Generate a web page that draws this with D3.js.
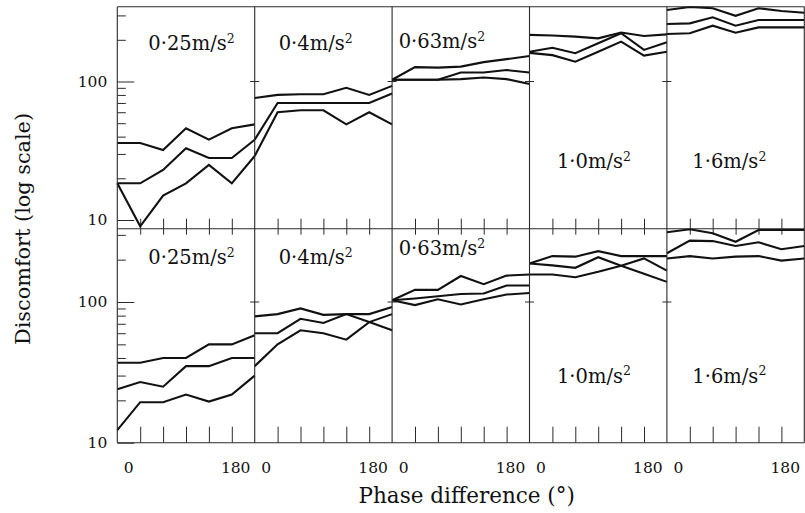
<!DOCTYPE html>
<html>
<head>
<meta charset="utf-8">
<script src="https://cdn.jsdelivr.net/npm/d3@7"></script>
<style>
  html, body { margin: 0; padding: 0; background: #fff; }
  svg { display: block; }
  svg text { font-family: "DejaVu Serif", serif; }
</style>
</head>
<body>
<svg id="chart" width="805" height="513"></svg>
<script>
// Phase differences (degrees) at which discomfort was measured
const phases = [0, 30, 60, 90, 120, 150, 180];
// Vibration magnitudes, one panel each (r.m.s. m/s²)
const levels = ["0·25", "0·4", "0·63", "1·0", "1·6"];

// Upper row: three response curves per magnitude
const upperHigh = [
  [36, 36, 32, 46, 38, 46, 49],
  [76, 80, 81, 81, 90, 80, 93],
  [103, 127, 126, 128, 138, 145, 153],
  [217, 215, 211, 205, 226, 213, 219],
  [328, 345, 338, 298, 338, 323, 314]
];
const upperMid = [
  [18.4, 18.4, 23, 33, 28, 28, 38],
  [38, 70, 70, 70, 70, 70, 82],
  [103, 103, 103, 116, 116, 121, 116],
  [164, 175, 160, 189, 223, 169, 192],
  [260, 263, 291, 253, 278, 278, 278]
];
const upperLow = [
  [18.4, 9, 15, 18.4, 25, 18.4, 29],
  [29, 60, 62, 62, 49, 60, 49],
  [103, 103, 103, 104, 107, 104, 96],
  [161, 155, 139, 164, 194, 154, 164],
  [220, 223, 253, 225, 246, 246, 246]
];

// Lower row: three response curves per magnitude
const lowerHigh = [
  [37, 37, 40, 40, 50, 50, 58],
  [79, 82, 90, 81, 82, 82, 92],
  [103, 122, 122, 153, 134, 154, 157],
  [188, 212, 210, 230, 212, 212, 212],
  [313, 329, 308, 268, 325, 325, 325]
];
const lowerMid = [
  [24, 27, 25, 35, 35, 40, 40],
  [60, 60, 76, 71, 82, 72, 63],
  [103, 106, 110, 114, 115, 131, 131],
  [188, 182, 175, 208, 181, 159, 139],
  [222, 273, 271, 250, 266, 237, 250]
];
const lowerLow = [
  [12.3, 19.4, 19.4, 22, 19.6, 22, 30],
  [35, 50, 63, 60, 54, 72, 82],
  [103, 95, 104.5, 96, 104.5, 113, 116],
  [157, 157, 150, 164, 181, 204, 167],
  [204, 212, 204, 210, 212, 197, 204]
];

// Axis ticks
const yMinorTicks = [20, 30, 40, 50, 60, 70, 80, 90, 200, 300];
const yMajorTicks = [10, 100];
const xInnerTicks = [30, 60, 90, 120, 150];
const xTickLabels = [0, 180];

// ---- layout ----
const FONT = '"DejaVu Serif", serif';
const plotLeft = 117.3, plotRight = 804.3;
const rows = [
  { top: 6.7,   bottom: 228.7, y10: 220,   y100: 81.5, series: [upperHigh, upperMid, upperLow],
    labelPos: [[31, 43.3], [24, 43.3], [6.6, 41.6], [27.4, 161.6], [25.4, 161.6]] },
  { top: 228.7, bottom: 442.7, y10: 442.7, y100: 302,  series: [lowerHigh, lowerMid, lowerLow],
    labelPos: [[31, 35.3], [24, 35.3], [6.6, 26.3], [27.4, 154], [25.4, 154]] }
];

const svg = d3.select("#chart");
const panelX = d3.scaleBand().domain(levels).range([plotLeft, plotRight]).paddingInner(0).paddingOuter(0);
const bw = panelX.bandwidth();
const ink = "#111";
const frame = "#2a2a2a";

function plainTicks(a) {
  a.attr("font-family", FONT);
  a.select(".domain").remove();
  a.selectAll("line").attr("stroke", frame).attr("stroke-width", 1);
}

rows.forEach((row, r) => {
  const y = d3.scaleLog().domain([10, 100]).range([row.y10, row.y100]);
  const g = svg.append("g");

  // left axis: minor and major ticks pointing into the plot
  g.append("g")
    .attr("transform", `translate(${plotLeft},0)`)
    .call(d3.axisRight(y).tickValues(yMinorTicks).tickSize(8.5).tickFormat(""))
    .call(plainTicks);
  g.append("g")
    .attr("transform", `translate(${plotLeft},0)`)
    .call(d3.axisRight(y).tickValues(yMajorTicks).tickSize(17).tickFormat(""))
    .call(plainTicks);
  g.append("g")
    .attr("transform", `translate(${plotLeft},0)`)
    .call(d3.axisLeft(y).tickValues(yMajorTicks).tickSize(0).tickPadding(10).tickFormat(d3.format("d")))
    .call(plainTicks)
    .call(a => a.selectAll("text").attr("font-size", 15.5).attr("fill", ink));

  levels.forEach((lvl, i) => {
    const x0 = panelX(lvl);
    const x = d3.scaleLinear().domain([0, 180]).range([x0, x0 + bw]);
    const pg = g.append("g");

    // phase ticks along the row edges
    pg.append("g")
      .attr("transform", `translate(0,${row.bottom})`)
      .call(d3.axisTop(x).tickValues(xInnerTicks).tickSize(r === 0 ? 10 : 16).tickFormat(""))
      .call(plainTicks);
    if (r === 1) {
      pg.append("g")
        .attr("transform", `translate(0,${row.top})`)
        .call(d3.axisBottom(x).tickValues(xInnerTicks).tickSize(6).tickFormat(""))
        .call(plainTicks);
    }

    // small cross mark at the 100 level on each inner divider
    if (i > 0) {
      pg.append("line")
        .attr("x1", x(0) - 4.5).attr("x2", x(0) + 4.5)
        .attr("y1", y(100)).attr("y2", y(100))
        .attr("stroke", frame).attr("stroke-width", 1);
    }

    // the three response curves
    const line = d3.line().x((d, j) => x(phases[j])).y(d => y(d));
    row.series.forEach(s => {
      pg.append("path")
        .attr("d", line(s[i]))
        .attr("fill", "none")
        .attr("stroke", ink)
        .attr("stroke-width", 2.1)
        .attr("stroke-linejoin", "miter")
        .attr("stroke-miterlimit", 10);
    });

    // magnitude label
    const [dx, dy] = row.labelPos[i];
    const t = pg.append("text")
      .attr("x", x0 + dx).attr("y", row.top + dy)
      .attr("font-size", 19.5).attr("fill", ink);
    t.append("tspan").text(lvl + "m/s");
    t.append("tspan").attr("font-size", 12.5).attr("dy", -7.5).text("2");

    // phase labels under the lower row
    if (r === 1) {
      pg.append("text")
        .attr("x", x(xTickLabels[0]) + 11.5).attr("y", 473.3)
        .attr("text-anchor", "middle").attr("font-size", 15.5).attr("fill", ink)
        .text(xTickLabels[0]);
      pg.append("text")
        .attr("x", x(xTickLabels[1]) - 19).attr("y", 473.3)
        .attr("text-anchor", "middle").attr("font-size", 15.5).attr("fill", ink)
        .text(xTickLabels[1]);
    }
  });
});

// panel frame: outer box, row divider and panel dividers
const frameG = svg.append("g").attr("fill", "none").attr("stroke", frame).attr("stroke-width", 1.1);
[rows[0].top, rows[0].bottom, rows[1].bottom].forEach(yy => {
  frameG.append("line").attr("x1", plotLeft).attr("x2", plotRight).attr("y1", yy).attr("y2", yy);
});
levels.forEach(l => {
  frameG.append("line").attr("x1", panelX(l)).attr("x2", panelX(l))
    .attr("y1", rows[0].top).attr("y2", rows[1].bottom);
});
frameG.append("line").attr("x1", plotRight).attr("x2", plotRight)
  .attr("y1", rows[0].top).attr("y2", rows[1].bottom);

// axis titles
svg.append("text")
  .attr("transform", "translate(30,229) rotate(-90)")
  .attr("text-anchor", "middle").attr("font-size", 20.8).attr("fill", ink)
  .text("Discomfort (log scale)");
svg.append("text")
  .attr("x", 466.7).attr("y", 503)
  .attr("text-anchor", "middle").attr("font-size", 21.5).attr("fill", ink)
  .text("Phase difference (°)");
</script>
</body>
</html>
